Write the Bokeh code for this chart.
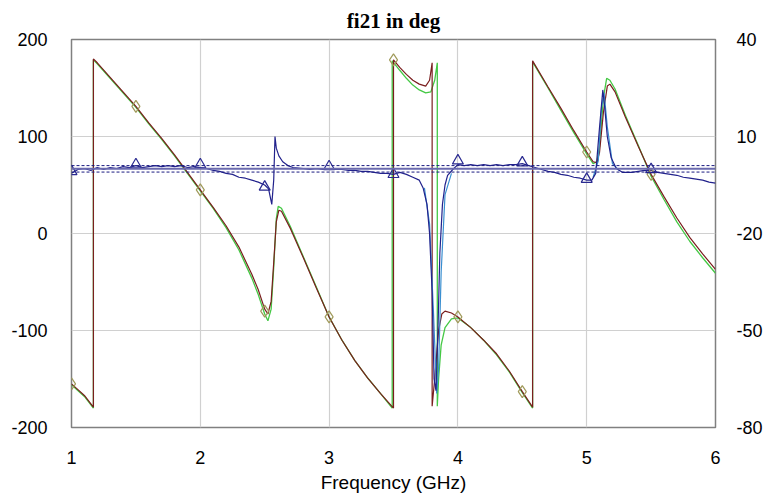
import numpy as np
from bokeh.plotting import figure
from bokeh.models import Range1d, LinearAxis, FixedTicker, Span, PrintfTickFormatter
from bokeh.embed import file_html
from bokeh.resources import INLINE

# ---- data: phase traces (deg, left axis) ----
red_f = [1.0, 1.05, 1.1, 1.17, 1.17, 1.2, 1.3, 1.4, 1.5, 1.6, 1.7, 1.8, 1.9, 2.0, 2.1, 2.2, 2.3, 2.4, 2.45,
         2.5, 2.525, 2.55, 2.57, 2.59, 2.61, 2.63, 2.7, 2.8, 2.9, 3.0, 3.1, 3.2, 3.3, 3.4, 3.5, 3.5, 3.55,
         3.6, 3.65, 3.7, 3.75, 3.78, 3.8, 3.8, 3.82, 3.85, 3.875, 3.9, 3.95, 4.0, 4.1, 4.2, 4.3, 4.4, 4.5,
         4.58, 4.58, 4.7, 4.8, 4.9, 5.0, 5.05, 5.08, 5.1, 5.13, 5.16, 5.18, 5.22, 5.3, 5.4, 5.5, 5.6, 5.7,
         5.8, 5.9, 6.0]
red_v = [-155, -161, -167, -179, 180, 176, 161, 146, 131, 114, 98, 81, 63, 45, 27, 8, -14, -42, -58,
         -78, -83, -70, -30, 12, 24, 23, 5, -25, -56, -86, -110, -131, -149, -165, -180, 179, 171,
         164, 158, 154, 152, 158, 176, -178, -150, -100, -83, -80, -82, -86, -97, -110, -124, -142, -163,
         -179, 178, 151, 129, 106, 84, 74, 73, 84, 125, 152, 154, 146, 120, 90, 61, 38, 16,
         -4, -21, -37]

green_f = [1.0, 1.1, 1.17, 1.17, 1.2, 1.3, 1.4, 1.5, 1.6, 1.7, 1.8, 1.9, 2.0, 2.1, 2.2, 2.3, 2.4, 2.45,
           2.5, 2.525, 2.55, 2.57, 2.59, 2.605, 2.63, 2.7, 2.8, 2.9, 3.0, 3.1, 3.2, 3.3, 3.4, 3.49, 3.49,
           3.55, 3.6, 3.65, 3.7, 3.75, 3.79, 3.82, 3.84, 3.84, 3.85, 3.87, 3.9, 3.95, 4.0, 4.1, 4.2, 4.3,
           4.4, 4.5, 4.58, 4.58, 4.7, 4.8, 4.9, 5.0, 5.05, 5.08, 5.1, 5.13, 5.155, 5.18, 5.22, 5.3, 5.4,
           5.5, 5.6, 5.7, 5.8, 5.9, 6.0]
green_v = [-156, -168, -180, 179, 175, 160, 145, 130, 113, 97, 80, 62, 44, 26, 6, -17, -46, -63,
           -83, -90, -78, -35, 15, 28, 26, 7, -24, -55, -86, -110, -131, -149, -165, -180, 178,
           168, 160, 153, 148, 145, 146, 158, 176, -178, -150, -115, -97, -88, -87, -97, -110, -125,
           -143, -164, -180, 177, 150, 127, 104, 82, 72, 74, 90, 140, 160, 158, 149, 122, 91,
           59, 35, 12, -8, -25, -41]

# ---- data: magnitude trace (dB, right axis) ----
blue_f = [1.0, 1.05, 1.1, 1.15, 1.2, 1.25, 1.3, 1.35, 1.4, 1.45, 1.5, 1.55, 1.6, 1.65, 1.7, 1.75, 1.8,
          1.85, 1.9, 1.95, 2.0, 2.05, 2.1, 2.15, 2.2, 2.25, 2.3, 2.35, 2.4, 2.45, 2.5, 2.53, 2.555, 2.57,
          2.58, 2.59, 2.61, 2.64, 2.68, 2.72, 2.8, 2.85, 2.9, 2.95, 3.0, 3.05, 3.1, 3.15, 3.2, 3.25, 3.3,
          3.35, 3.4, 3.45, 3.5, 3.55, 3.6, 3.65, 3.7, 3.73, 3.76, 3.78, 3.8, 3.815, 3.83, 3.845, 3.86,
          3.88, 3.9, 3.92, 3.96, 4.0, 4.05, 4.1, 4.15, 4.2, 4.25, 4.3, 4.35, 4.4, 4.45, 4.5, 4.55, 4.6,
          4.65, 4.7, 4.75, 4.8, 4.85, 4.9, 4.95, 5.0, 5.04, 5.07, 5.1, 5.125, 5.14, 5.16, 5.19, 5.23,
          5.28, 5.35, 5.4, 5.45, 5.5, 5.55, 5.6, 5.65, 5.7, 5.75, 5.8, 5.85, 5.9, 5.95, 6.0]
blue_v = [-1.4, -0.2, 0.1, -0.5, 0.4, -0.2, 0.4, 0.1, 0.7, 0.4, 1.0, 0.4, 0.7, 1.0, 0.7, 1.0, 0.7,
          1.0, 0.4, 0.7, 0.4, 0.1, -0.5, -0.8, -1.4, -1.7, -2.6, -2.9, -3.5, -4.1, -5.0, -6.2, -11.0, -3.5,
          10.0, 6.4, 4.0, 2.2, 1.0, 0.4, 0.1, -0.2, 0.1, -0.2, 0.1, -0.2, -0.2, -0.5, -0.5, -0.8, -0.8,
          -1.1, -1.4, -1.4, -1.7, -1.1, -1.7, -2.6, -3.5, -5.9, -11.0, -20.0, -38.0, -65.0, -68.6, -50.0, -26.0,
          -11.0, -5.0, -2.0, -0.2, 1.3, 1.0, 1.3, 1.0, 1.3, 1.0, 1.3, 1.0, 1.3, 1.3, 1.6, 1.0, 0.4,
          -0.2, -0.8, -1.1, -1.7, -2.0, -2.6, -2.9, -3.5, -3.5, -1.4, 13.0, 24.4, 19.0, 10.0, 3.4, 0.1,
          -1.1, -1.1, -0.8, -0.5, -0.5, -1.1, -1.4, -1.7, -2.0, -2.6, -2.9, -3.2, -3.5, -4.1, -4.4]

sim_f = [3.74, 3.78, 3.81, 3.835, 3.85, 3.87, 3.9, 3.95, None, 5.05, 5.09, 5.115, 5.135, 5.16, 5.2, 5.25]
sim_v = [-5.9, -17.0, -44.0, -69.5, -62.0, -32.0, -8.0, -1.4, None, -2.6, 2.5, 19.0, 23.5, 13.0, 1.6, -0.5]

# markers
mark_f = [1.0, 1.5, 2.0, 2.5, 3.0, 3.5, 4.0, 4.5, 5.0, 5.5]
diamond_v = [-155, 131, 45, -80, -86, 179, -86, -163, 84, 61]
triangle_v = [-0.8, 1.3, 1.3, -5.6, 0.7, -1.7, 2.5, 1.9, -3.2, -0.2]

ref_level = 0.0
limit_levels = [-1.0, 1.0]

x_ticks = [1, 2, 3, 4, 5, 6]
left_ticks = [-200, -100, 0, 100, 200]
right_ticks = [-80, -50, -20, 10, 40]

FONT = "Liberation Sans"

p = figure(frame_width=644, frame_height=388, output_backend="svg", toolbar_location=None,
           x_range=Range1d(1, 6), y_range=Range1d(-200, 200),
           min_border_left=71, min_border_right=46, min_border_top=38, min_border_bottom=60,
           title="fi21 in deg")
p.extra_y_ranges = {"r": Range1d(-80, 40)}

p.title.align = "center"
p.title.text_font = "Liberation Serif"
p.title.text_font_style = "bold"
p.title.text_font_size = "21px"
p.title.text_color = "#000000"
p.title.standoff = 13

p.outline_line_color = "#808080"
p.outline_line_width = 1.5
p.background_fill_color = "white"
p.border_fill_color = "white"

raxis = LinearAxis(y_range_name="r")
p.add_layout(raxis, "right")

laxis = p.yaxis[0]
baxis = p.xaxis[0]

for ax in [baxis, laxis, raxis]:
    ax.axis_line_color = None
    ax.major_tick_line_color = None
    ax.minor_tick_line_color = None
    ax.major_tick_out = 0
    ax.major_tick_in = 0
    ax.minor_tick_out = 0
    ax.minor_tick_in = 0
    ax.major_label_text_font = FONT
    ax.major_label_text_font_size = "18px"
    ax.major_label_text_color = "#000000"
    ax.formatter = PrintfTickFormatter(format="%d")

baxis.ticker = FixedTicker(ticks=x_ticks)
laxis.ticker = FixedTicker(ticks=left_ticks)
raxis.ticker = FixedTicker(ticks=right_ticks)
baxis.axis_label = "Frequency (GHz)"
baxis.axis_label_text_font = FONT
baxis.axis_label_text_font_size = "19px"
baxis.axis_label_text_font_style = "normal"
baxis.axis_label_text_color = "#000000"
baxis.major_label_standoff = 23
baxis.axis_label_standoff = 5
laxis.major_label_standoff = 24
raxis.major_label_standoff = 21

p.xgrid.grid_line_color = "#D0D0D0"
p.ygrid.grid_line_color = "#D0D0D0"
p.xgrid.grid_line_width = 1.2
p.ygrid.grid_line_width = 1.2

# reference level and limits (right axis)
p.add_layout(Span(location=ref_level, dimension="width", y_range_name="r",
                  line_color="#6A6AAE", line_width=2))
for lv in limit_levels:
    p.add_layout(Span(location=lv, dimension="width", y_range_name="r",
                      line_color="#1A1A80", line_width=1, line_dash="3 2"))

p.line(green_f, green_v, line_color="#44C844", line_width=1.3)
p.line(red_f, red_v, line_color="#7A1E1E", line_width=1.2)
p.line(np.array(sim_f, dtype=float), np.array(sim_v, dtype=float), y_range_name="r",
       line_color="#3A8FD0", line_width=1.2)
p.line(blue_f, blue_v, y_range_name="r", line_color="#22228C", line_width=1.2)

p.scatter(mark_f, diamond_v, marker="diamond", size=12, fill_color=None,
          line_color="#A09A5A", line_width=1.2)
p.scatter(mark_f, triangle_v, marker="triangle", size=11, fill_color=None,
          line_color="#2A2A90", line_width=1.2, y_range_name="r")

open("out.html", "w").write(file_html(p, INLINE))
